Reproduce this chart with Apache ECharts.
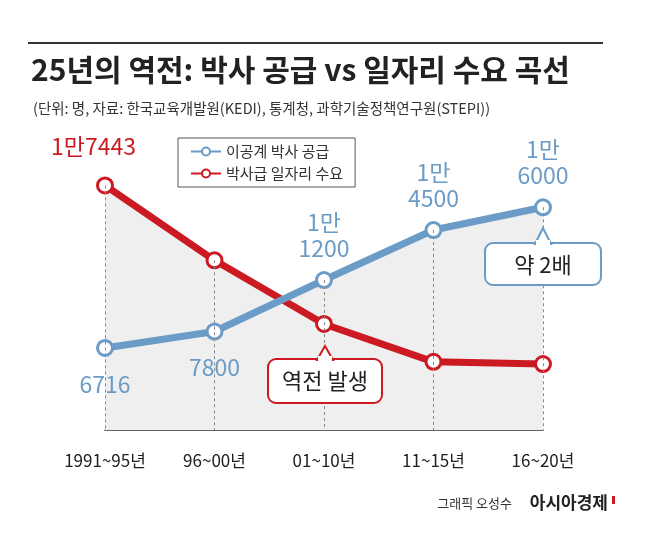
<!DOCTYPE html>
<html>
<head>
<meta charset="utf-8">
<title>박사 공급 vs 일자리 수요</title>
<script src="https://cdn.jsdelivr.net/npm/echarts@6/dist/echarts.min.js"></script>
<style>
  body { margin:0; background:#fff; }
  #chart { width:658px; height:536px; }
</style>
</head>
<body>
<div id="chart"></div>
<script type="text/javascript">
  var periods = ['1991~95년', '96~00년', '01~10년', '11~15년', '16~20년'];
  var supply = [6716, 7800, 11200, 14500, 16000];   // 이공계 박사 공급
  var demand = [17443, 12500, 8300, 5800, 5650];    // 박사급 일자리 수요
  var supplyLabels = ['6716', '7800', '1만\n1200', '1만\n4500', '1만\n6000'];
  var YMIN = 1300;

  var font = '"Noto Sans CJK KR", sans-serif';
  var blue = '#6b9bc7', red = '#cc1a22';

  var tops = supply.map(function (v, i) { return Math.max(v, demand[i]); });
  function dropLines(vals) {
    return vals.map(function (v, i) {
      return [{ coord: [i, v] }, { coord: [i, YMIN] }];
    });
  }

  var myChart = echarts.init(document.getElementById('chart'));
  myChart.setOption({
    backgroundColor: '#fff',
    textStyle: { fontFamily: font },
    animation: false,
    title: [
      { text: '25년의 역전: 박사 공급 vs 일자리 수요 곡선', left: 26, top: 50,
        textStyle: { fontFamily: font, fontSize: 30, fontWeight: 'bold', color: '#222' } },
      { text: '(단위: 명, 자료: 한국교육개발원(KEDI), 통계청, 과학기술정책연구원(STEPI))', left: 28, top: 96,
        textStyle: { fontFamily: font, fontSize: 14.5, fontWeight: 'normal', color: '#333' } }
    ],
    legend: {
      left: 178, top: 138, orient: 'vertical', itemGap: 7,
      borderColor: '#555', borderWidth: 1, padding: [6, 12],
      backgroundColor: '#fff',
      itemWidth: 30, itemHeight: 10,
      textStyle: { fontFamily: font, fontSize: 15, color: '#333' },
      data: ['이공계 박사 공급', '박사급 일자리 수요']
    },
    grid: { left: 105, right: 115, top: 177, bottom: 106 },
    xAxis: {
      type: 'category', data: periods, boundaryGap: false,
      axisLine: { lineStyle: { color: '#333', width: 1.5 } },
      axisTick: { show: false },
      axisLabel: { fontFamily: font, fontSize: 17, color: '#222', margin: 22, interval: 0 }
    },
    yAxis: { type: 'value', min: YMIN, max: 18000, show: false, splitLine: { show: false } },
    series: [
      // grey background fill under both curves
      { type: 'line', data: demand, z: 1, symbol: 'none', silent: true,
        lineStyle: { width: 0 }, areaStyle: { color: '#efefef', opacity: 1 } },
      { type: 'line', data: supply, z: 1, symbol: 'none', silent: true,
        lineStyle: { width: 0 }, areaStyle: { color: '#efefef', opacity: 1 } },
      // dashed guides
      { type: 'line', data: tops, z: 2, symbol: 'none', silent: true,
        lineStyle: { width: 0 },
        markLine: {
          silent: true, symbol: 'none',
          lineStyle: { color: '#888', type: [3, 3], width: 1 },
          label: { show: false },
          data: dropLines(tops)
        }
      },
      {
        name: '박사급 일자리 수요', type: 'line', data: demand, z: 3,
        symbol: 'circle', symbolSize: 15,
        itemStyle: { color: '#fff', borderColor: red, borderWidth: 3 },
        lineStyle: { color: red, width: 7 },
        label: {
          show: true, position: [-45, -42], color: red, fontSize: 23, fontFamily: font,
          formatter: function (p) { return p.dataIndex === 0 ? '1만7443' : ''; }
        }
      },
      {
        name: '이공계 박사 공급', type: 'line', z: 4,
        data: supply.map(function (v, i) {
          return { value: v, label: { position: i < 2 ? 'bottom' : 'top', distance: i < 2 ? 14 : 10 } };
        }),
        symbol: 'circle', symbolSize: 15,
        itemStyle: { color: '#fff', borderColor: blue, borderWidth: 3 },
        lineStyle: { color: blue, width: 7 },
        label: {
          show: true, color: blue, fontSize: 23, fontFamily: font, lineHeight: 26,
          formatter: function (p) { return supplyLabels[p.dataIndex]; }
        }
      }
    ],
    graphic: [
      { type: 'rect', left: 28, top: 42, shape: { width: 575, height: 2 }, style: { fill: '#333' } },
      { type: 'polygon', shape: { points: [[325, 346], [317, 360], [333, 360]] },
        style: { fill: '#fff', stroke: red, lineWidth: 2 }, z: 10 },
      { type: 'rect', shape: { x: 268, y: 359, width: 114, height: 44, r: 8 },
        style: { fill: '#fff', stroke: red, lineWidth: 2 }, z: 9 },
      { type: 'rect', shape: { x: 318, y: 356, width: 14, height: 5 }, style: { fill: '#fff' }, z: 11 },
      { type: 'text', x: 325, y: 381, z: 12,
        style: { text: '역전 발생', fontSize: 22, fontFamily: font, fill: '#222', align: 'center', verticalAlign: 'middle' } },
      { type: 'polygon', shape: { points: [[543, 228], [535, 244], [551, 244]] },
        style: { fill: '#fff', stroke: blue, lineWidth: 2 }, z: 10 },
      { type: 'rect', shape: { x: 485, y: 243, width: 116, height: 42, r: 8 },
        style: { fill: '#fff', stroke: blue, lineWidth: 2 }, z: 9 },
      { type: 'rect', shape: { x: 536, y: 240, width: 14, height: 5 }, style: { fill: '#fff' }, z: 11 },
      { type: 'text', x: 543, y: 265, z: 12,
        style: { text: '약 2배', fontSize: 22, fontFamily: font, fill: '#222', align: 'center', verticalAlign: 'middle' } },
      { type: 'text', x: 512, y: 503,
        style: { text: '그래픽 오성수', fontSize: 13, fontFamily: font, fill: '#333', align: 'right', verticalAlign: 'middle' } },
      { type: 'text', x: 608, y: 503,
        style: { text: '아시아경제', fontSize: 17, fontWeight: 'bold', fontFamily: font, fill: '#222', align: 'right', verticalAlign: 'middle' } },
      { type: 'rect', shape: { x: 612, y: 496, width: 3, height: 8 }, style: { fill: red } }
    ]
  });
</script>
</body>
</html>
